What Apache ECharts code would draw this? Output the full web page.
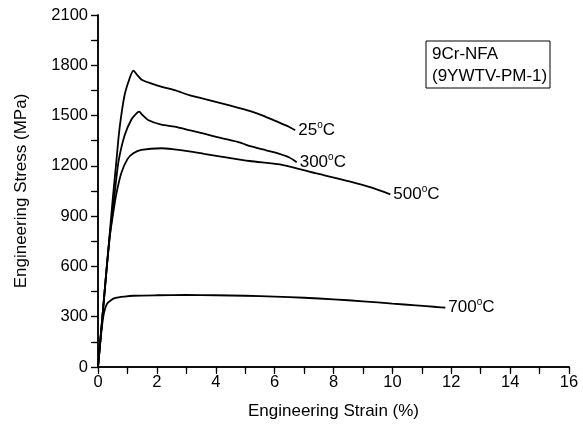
<!DOCTYPE html>
<html>
<head>
<meta charset="utf-8">
<script src="https://cdn.jsdelivr.net/npm/echarts@6/dist/echarts.min.js"></script>
<style>
  html, body { margin: 0; padding: 0; background: #fff; }
  #chart { width: 583px; height: 428px; }
</style>
</head>
<body>
<div id="chart"></div>
<script>
// strain (%) / stress (MPa)
const strain25 = [0, 0.1, 0.2, 0.3, 0.4, 0.5, 0.62, 0.73, 0.9, 1.07, 1.2, 1.35, 1.5, 1.8, 2.2, 2.6, 3.1, 3.6, 4.2, 4.8, 5.2, 5.6, 6.0, 6.5, 6.7]
const stress25 = [0, 200, 400, 600, 800, 1000, 1220, 1420, 1620, 1720, 1768, 1738, 1712, 1692, 1670, 1652, 1622, 1600, 1573, 1545, 1525, 1500, 1470, 1432, 1412]

const strain300 = [0, 0.15, 0.3, 0.4, 0.5, 0.6, 0.7, 0.9, 1.13, 1.3, 1.4, 1.5, 1.7, 2.15, 2.6, 3.1, 3.6, 4.23, 4.8, 5.2, 5.6, 6.0, 6.5, 6.75]
const stress300 = [0, 300, 600, 780, 930, 1090, 1230, 1380, 1475, 1512, 1523, 1505, 1474, 1446, 1434, 1413, 1392, 1364, 1340, 1316, 1298, 1280, 1250, 1222]

const strain500 = [0, 0.15, 0.3, 0.4, 0.5, 0.62, 0.79, 1.0, 1.2, 1.47, 2.15, 2.6, 3.1, 3.6, 4.23, 5.15, 6.29, 7.43, 8.57, 9.3, 9.93]
const stress500 = [0, 300, 600, 780, 900, 1030, 1156, 1240, 1275, 1295, 1305, 1298, 1287, 1272, 1254, 1229, 1205, 1155, 1106, 1070, 1030]

const strain700 = [0, 0.12, 0.2, 0.3, 0.45, 0.6, 0.9, 1.2, 2, 3, 4, 5, 6, 7, 8, 9, 10, 10.8, 11.5, 11.8]
const stress700 = [0, 220, 320, 375, 400, 412, 420, 425, 428, 430, 428, 425, 420, 413, 404, 392, 378, 368, 358, 354]

const curves = [
  { temp: '25', x: strain25, y: stress25 },
  { temp: '300', x: strain300, y: stress300 },
  { temp: '500', x: strain500, y: stress500 },
  { temp: '700', x: strain700, y: stress700 }
]

const legendLines = ['9Cr-NFA', '(9YWTV-PM-1)']

const font = 'Liberation Sans, Arial, sans-serif'
const chart = echarts.init(document.getElementById('chart'))

const axisLine = { show: true, lineStyle: { color: '#000', width: 1.5 } }

chart.setOption({
  backgroundColor: '#fff',
  animation: false,
  grid: { left: 98, right: 14, top: 15, bottom: 61 },
  xAxis: [
    {
      type: 'value', min: 0, max: 16, interval: 2,
      name: 'Engineering Strain (%)', nameLocation: 'middle', nameGap: 36,
      nameTextStyle: { fontFamily: font, fontSize: 17, color: '#000' },
      axisLine: axisLine,
      axisTick: { show: true, inside: false, length: 5, lineStyle: { color: '#000', width: 1.2 } },
      minorTick: { show: true, splitNumber: 2, length: 4, lineStyle: { color: '#000', width: 1.2 } },
      axisLabel: { fontFamily: font, fontSize: 16.5, color: '#000', margin: 7, formatter: (v) => String(v) },
      splitLine: { show: false }
    },
    {
      type: 'value', min: 0, max: 16, interval: 1, position: 'top',
      axisLine: axisLine,
      axisTick: { show: true, inside: true, length: 7, lineStyle: { color: '#000', width: 1.2 } },
      axisLabel: { show: false },
      splitLine: { show: false }
    }
  ],
  yAxis: [
    {
      type: 'value', min: 0, max: 2100, interval: 300,
      name: 'Engineering Stress (MPa)', nameLocation: 'middle', nameGap: 68,
      nameTextStyle: { fontFamily: font, fontSize: 17, color: '#000' },
      axisLine: axisLine,
      axisTick: { show: true, inside: false, length: 7, lineStyle: { color: '#000', width: 1.2 } },
      minorTick: { show: true, splitNumber: 2, length: 5, lineStyle: { color: '#000', width: 1.2 } },
      axisLabel: { fontFamily: font, fontSize: 16.5, color: '#000', margin: 10, formatter: (v) => String(v) },
      splitLine: { show: false }
    },
    {
      type: 'value', min: 0, max: 2100, interval: 150, position: 'right',
      axisLine: axisLine,
      axisTick: { show: true, inside: true, length: 7, lineStyle: { color: '#000', width: 1.2 } },
      axisLabel: { show: false },
      splitLine: { show: false }
    }
  ],
  series: curves.map((c) => ({
    type: 'line',
    xAxisIndex: 0,
    yAxisIndex: 0,
    data: c.x.map((v, i) => [v, c.y[i]]),
    showSymbol: false,
    smooth: 0.25,
    lineStyle: { color: '#000', width: 1.8 },
    endLabel: {
      show: true,
      distance: 3,
      formatter: '{a|' + c.temp + '}{s|o}{a|C}',
      rich: {
        a: { fontFamily: font, fontSize: 17, color: '#000', lineHeight: 20 },
        s: { fontFamily: font, fontSize: 10, color: '#000', verticalAlign: 'top', lineHeight: 20 }
      }
    }
  })),
  graphic: [
    {
      type: 'rect',
      shape: { x: 426, y: 41, width: 124, height: 47 },
      style: { fill: '#fff', stroke: '#000', lineWidth: 1 }
    },
    {
      type: 'text',
      left: 432, top: 43,
      style: {
        text: legendLines.join('\n'),
        font: '17px ' + font,
        fill: '#000',
        lineHeight: 22
      }
    }
  ]
})
</script>
</body>
</html>
